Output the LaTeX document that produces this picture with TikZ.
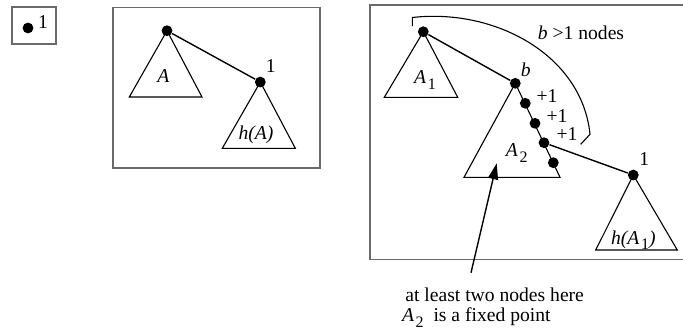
\documentclass[tikz,border=0pt]{standalone}
\usepackage{fontspec}
\setmainfont{Liberation Serif}
\usetikzlibrary{arrows.meta,positioning,calc}
\definecolor{ink}{HTML}{000000}
\definecolor{frame}{HTML}{6A6A6A}
\newcommand\lowidx[1]{\kern0.08em\raisebox{-0.6ex}{\footnotesize #1}}

\tikzset{
  dot/.style={circle, fill=ink, inner sep=0pt, minimum size=5.4pt},
  edge/.style={draw=ink, line width=0.7pt},
  subtree/.style={draw=ink, line width=0.55pt},
  panel/.style={draw=frame, line width=0.8pt},
  lbl/.style={inner sep=0pt, text=ink, font=\fontsize{9.8}{11}\selectfont}
}

\begin{document}
\begin{tikzpicture}[x=0.5pt, y=-0.5pt]
        \useasboundingbox (0,0) rectangle (683,334);
        % legend
        \draw[panel] (12,7) rectangle (56,44);
        \node[dot] (key) at (28,28) {};
        \node[lbl] (keyone) at (43,22) {1};

        % tree A and h(A)
        \draw[panel] (112.7,7.3) rectangle (320,167.7);
        \node[dot] (ra) at (167,30.7) {};
        \node[dot] (rh) at (260.3,82) {};
        \draw[edge] (ra) -- (rh);
        \draw[subtree] (ra.center) -- (129.3,97) -- (202,97) -- cycle;
        \draw[subtree] (rh.center) -- (222.3,148.3) -- (295.3,148.3) -- cycle;
        \node[lbl] (la) at (163.3,76) {\textit{A}};
        \node[lbl] (lone) at (270.7,66) {1};
        \node[lbl] (lh) at (256,135) {\textit{h(A)}};

        % tree A_1 with the path through A_2
        \draw[panel] (370,5) rectangle (690,259.3);
        \node[dot] (r1) at (423.3,31.7) {};
        \node[dot] (b) at (515.3,83.3) {};
        \node[dot] (p1) at (525.3,103.3) {};
        \node[dot] (p2) at (535,123.3) {};
        \node[dot] (p3) at (544,142.7) {};
        \node[dot] (p4) at (553.3,162.7) {};
        \node[dot] (rh1) at (633.3,175) {};
        \draw[edge] (r1) -- (b);
        \draw[edge] (p3) -- (rh1);
        \draw[subtree] (r1.center) -- (384.3,97.3) -- (457.7,97.3) -- cycle;
        \draw[subtree] (b.center) -- (464,177.3) -- (560,177.3) -- cycle;
        \draw[subtree] (rh1.center) -- (595.7,250) -- (677.3,250) -- cycle;

        \node[lbl] (la1) at (425,80) {\textit{A}\lowidx{1}};
        \node[lbl] (lb) at (525.7,70) {\textit{b}};
        \node[lbl] (inc1) at (547,96.5) {+1};
        \node[lbl] (inc2) at (557,116) {+1};
        \node[lbl] (inc3) at (567,134.5) {+1};
        \node[lbl] (la2) at (516.7,153) {\textit{A}\lowidx{2}};
        \node[lbl] (lone1) at (644.3,159.5) {1};
        \node[lbl] (lh1) at (633.3,240) {\textit{h(A}\lowidx{1}\textit{)}};

        % bracket over the b nodes
        \coordinate (bra) at (412.3,26);
        \coordinate (ket) at (580.7,144.3);
        \draw[subtree] (bra) -- (412.3,17.5)
          .. controls (495,8) and (582,55) .. (590,134.3) -- (ket);
        \node[lbl] (count) at (581,33) {\textit{b} >1 nodes};

        % note
        \node[lbl, anchor=west] (note1) at (405,295) {at least two nodes here};
        \node[lbl, anchor=west] (note2) at (401.7,317.5) {\textit{A}\lowidx{2}\ \ is a fixed point};
        \coordinate (tail) at (471,272.7);
        \coordinate (tip) at (496.7,163.3);
        \draw[edge, -{Triangle[length=8pt, width=5pt]}] (tail) -- (tip);
      \end{tikzpicture}
\end{document}
